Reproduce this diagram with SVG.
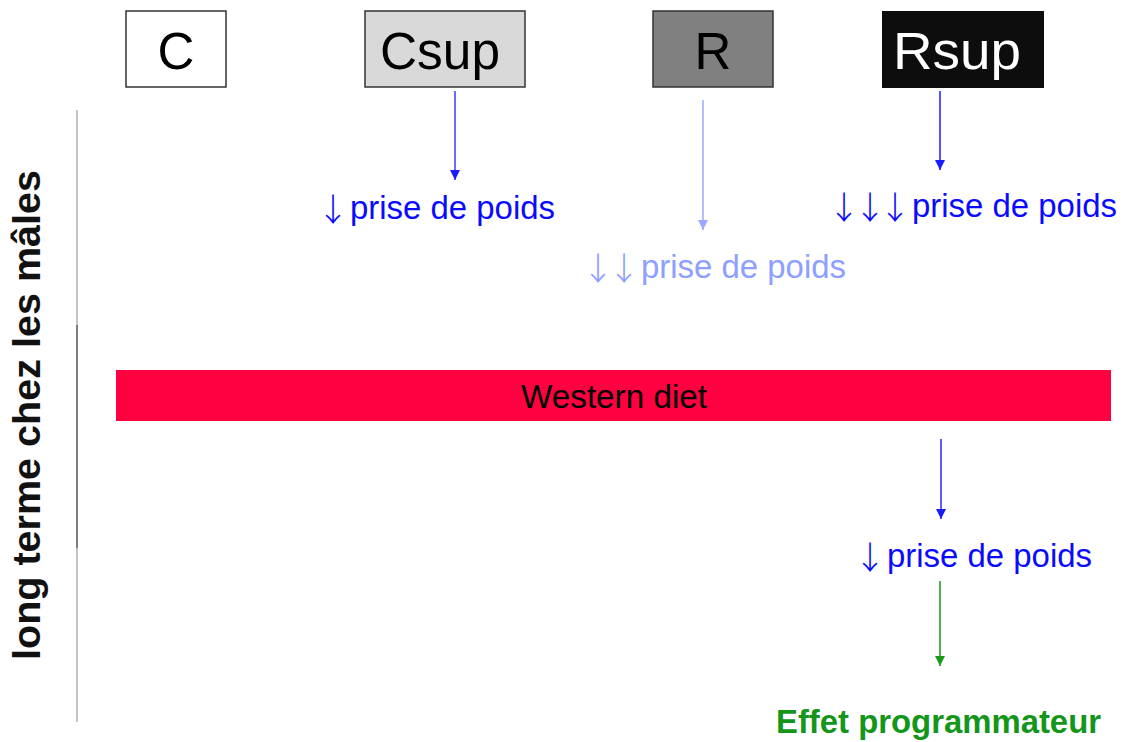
<svg xmlns="http://www.w3.org/2000/svg" width="1123" height="742" viewBox="0 0 1123 742">
  <style>
    .lbl { font-family: "Liberation Sans", Arial, sans-serif; }
    .box-text { font-size: 51px; text-anchor: middle; }
    .gain { font-size: 33px; fill: #0a0aff; }
    .gain-light { font-size: 33px; fill: #8ea0ff; }
    .arr { font-family: "Noto Sans CJK SC", "DejaVu Sans", sans-serif; font-size: 32px; font-weight: 300; text-anchor: middle; }
    .box { stroke: #333; stroke-width: 1.5; }
  </style>
  <defs>
    <marker id="head-blue" viewBox="0 0 10 10" refX="10" refY="5" markerWidth="10" markerHeight="10" markerUnits="userSpaceOnUse" orient="auto">
      <path d="M0,0 L10,5 L0,10 z" fill="#1a1aff"/>
    </marker>
    <marker id="head-light" viewBox="0 0 10 10" refX="10" refY="5" markerWidth="10" markerHeight="10" markerUnits="userSpaceOnUse" orient="auto">
      <path d="M0,0 L10,5 L0,10 z" fill="#9aa8ff"/>
    </marker>
    <marker id="head-green" viewBox="0 0 10 10" refX="10" refY="5" markerWidth="10" markerHeight="10" markerUnits="userSpaceOnUse" orient="auto">
      <path d="M0,0 L10,5 L0,10 z" fill="#1a9a1a"/>
    </marker>
  </defs>
  <rect width="1123" height="742" fill="#ffffff"/>

  <!-- side axis with label -->
  <g id="axis">
    <line x1="77" y1="110" x2="77" y2="722" stroke="#b0b0b0" stroke-width="1.5"/>
    <line x1="77" y1="325" x2="77" y2="548" stroke="#666" stroke-width="1.5"/>
    <text class="lbl" transform="translate(40,415) rotate(-90)" text-anchor="middle" font-size="38" font-weight="bold" fill="#111" textLength="490" lengthAdjust="spacingAndGlyphs">long terme chez les mâles</text>
  </g>

  <!-- group boxes -->
  <g id="node-c">
    <rect class="box" x="126" y="11" width="100" height="76" fill="#ffffff"/>
    <text class="lbl box-text" x="176" y="69" fill="#000">C</text>
  </g>
  <g id="node-csup">
    <rect class="box" x="365" y="11" width="160" height="76" fill="#d9d9d9"/>
    <text class="lbl box-text" x="440" y="69" fill="#000" textLength="120" lengthAdjust="spacingAndGlyphs">Csup</text>
  </g>
  <g id="node-r">
    <rect class="box" x="653" y="11" width="120" height="76" fill="#808080"/>
    <text class="lbl box-text" x="713" y="69" fill="#000">R</text>
  </g>
  <g id="node-rsup">
    <rect x="882" y="11" width="162" height="77" fill="#0d0d0d"/>
    <text class="lbl box-text" x="957" y="69" fill="#ffffff" textLength="128" lengthAdjust="spacingAndGlyphs">Rsup</text>
  </g>

  <!-- outcome labels: arrow glyphs placed one by one, then the phrase -->
  <g id="node-csup-gain" class="gain">
    <text class="arr" x="333" y="221">↓</text>
    <text class="lbl" x="350" y="219" textLength="205" lengthAdjust="spacingAndGlyphs">prise de poids</text>
  </g>
  <g id="node-r-gain" class="gain-light">
    <text class="arr" x="598 624" y="280">↓↓</text>
    <text class="lbl" x="641" y="278" textLength="205" lengthAdjust="spacingAndGlyphs">prise de poids</text>
  </g>
  <g id="node-rsup-gain" class="gain">
    <text class="arr" x="844 870 895" y="219">↓↓↓</text>
    <text class="lbl" x="912" y="217" textLength="205" lengthAdjust="spacingAndGlyphs">prise de poids</text>
  </g>

  <g id="node-western">
    <rect x="116" y="370" width="995" height="51" fill="#ff0040"/>
    <text class="lbl" x="614" y="408" font-size="33" text-anchor="middle" fill="#000" textLength="186" lengthAdjust="spacingAndGlyphs">Western diet</text>
  </g>

  <g id="node-late-gain" class="gain">
    <text class="arr" x="870" y="569">↓</text>
    <text class="lbl" x="887" y="567" textLength="205" lengthAdjust="spacingAndGlyphs">prise de poids</text>
  </g>
  <g id="node-effet">
    <text class="lbl" x="776" y="733" font-size="33" font-weight="bold" fill="#13961a" textLength="325" lengthAdjust="spacingAndGlyphs">Effet programmateur</text>
  </g>

  <!-- connectors -->
  <g id="connectors" fill="none" stroke-width="1.5">
    <line x1="455" y1="91" x2="455" y2="180" stroke="#3a3aff" marker-end="url(#head-blue)"/>
    <line x1="703" y1="100" x2="703" y2="230" stroke="#9aa8ff" marker-end="url(#head-light)"/>
    <line x1="940" y1="91" x2="940" y2="170" stroke="#1a1aff" marker-end="url(#head-blue)"/>
    <line x1="941" y1="439" x2="941" y2="519" stroke="#2a2aff" marker-end="url(#head-blue)"/>
    <line x1="940" y1="581" x2="940" y2="666" stroke="#1a9a1a" marker-end="url(#head-green)"/>
  </g>
</svg>
